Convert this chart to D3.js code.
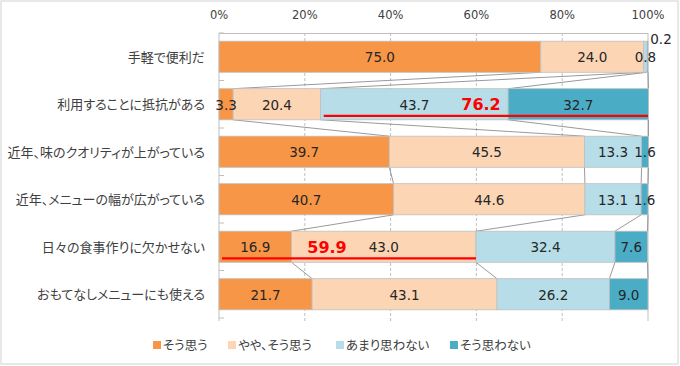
<!DOCTYPE html>
<html><head><meta charset="utf-8">
<script src="https://cdn.jsdelivr.net/npm/d3@7"></script>
<style>body{margin:0;background:#fff}svg{display:block}.jp{font-feature-settings:"palt" 1}</style>
</head><body><svg id="c" width="680" height="366"></svg>
<script>
const categories = ["手軽で便利だ","利用することに抵抗がある","近年、味のクオリティが上がっている","近年、メニューの幅が広がっている","日々の食事作りに欠かせない","おもてなしメニューにも使える"];
const seriesNames = ["そう思う","やや、そう思う","あまり思わない","そう思わない"];
const s1 = [75.0, 3.3, 39.7, 40.7, 16.9, 21.7];
const s2 = [24.0, 20.4, 45.5, 44.6, 43.0, 43.1];
const s3 = [0.8, 43.7, 13.3, 13.1, 32.4, 26.2];
const s4 = [0.2, 32.7, 1.6, 1.6, 7.6, 9.0];
const xTicks = [0,20,40,60,80,100];
const highlights = [{row:1, from:2, to:3, text:"76.2"}, {row:4, from:0, to:1, text:"59.9"}];
const colors = ["#F79646","#FCD5B5","#B7DEE8","#4BACC6"];
const font = "'Noto Sans CJK JP', 'Noto Sans', sans-serif";
const numFont = "'DejaVu Sans', sans-serif";

const svg = d3.select("#c");
svg.append("rect").attr("x",1).attr("y",1).attr("width",677).attr("height",363)
  .attr("fill","#fff").attr("stroke","#d9d9d9").attr("stroke-width",1.2);

const x = d3.scaleLinear().domain([0,100]).range([219,648]);
const y = d3.scaleBand().domain(categories).range([33,318]).paddingInner(0.345).paddingOuter(0.1725);
const series = [s1,s2,s3,s4];
const rows = categories.map((c,i)=>{
  let acc=0; return series.map((s,k)=>{const v=s[i]; const seg={k,i,v,x0:acc,x1:acc+v}; acc+=v; return seg;});
});

// gridlines
const g = svg.append("g");
xTicks.forEach(t=>{
  g.append("line").attr("x1",x(t)).attr("x2",x(t)).attr("y1",33).attr("y2",321)
   .attr("stroke", "#bfbfbf").attr("stroke-width",1)
   .attr("stroke-dasharray", (t===0||t===100)?null:"3,2");
});
g.append("line").attr("x1",x(0)).attr("x2",x(100)).attr("y1",33.5).attr("y2",33.5).attr("stroke","#bfbfbf");
const bounds = categories.map(c=>y(c)-y.step()*y.paddingInner()/2).concat([318]);
bounds.forEach(b=>{
  g.append("line").attr("x1",x(0)).attr("x2",x(0)+5).attr("y1",b).attr("y2",b).attr("stroke","#bfbfbf");
});

// top axis labels
svg.append("g").selectAll("text").data(xTicks).join("text")
  .attr("x",d=>x(d)).attr("y",19).attr("text-anchor","middle")
  .attr("font-family",numFont).attr("font-size",11.5).attr("fill","#404040")
  .text(d=>d+"%");

// series lines
const sl = svg.append("g");
for(let i=0;i<categories.length-1;i++){
  for(let k=0;k<4;k++){
    sl.append("line")
      .attr("x1",x(rows[i][k].x1)).attr("y1",y(categories[i])+y.bandwidth())
      .attr("x2",x(rows[i+1][k].x1)).attr("y2",y(categories[i+1]))
      .attr("stroke","#7f7f7f").attr("stroke-width",0.8);
  }
}

// bars
const bg = svg.append("g");
rows.forEach((r,i)=>{
  r.forEach(seg=>{
    bg.append("rect").attr("x",x(seg.x0)).attr("y",y(categories[i]))
      .attr("width",x(seg.x1)-x(seg.x0)).attr("height",y.bandwidth())
      .attr("fill",colors[seg.k]).attr("stroke","#bfbfbf").attr("stroke-width",0.8);
  });
});

// value labels
const lg = svg.append("g").attr("font-family",numFont).attr("font-size",13.5).attr("fill","#262626");
rows.forEach((r,i)=>{
  r.forEach(seg=>{
    let cx = x((seg.x0+seg.x1)/2), cy = y(categories[i])+y.bandwidth()/2+5.5;
    if(i===0 && seg.k===3){ cx = 661; cy = 44; }
    lg.append("text").attr("x",cx).attr("y",cy).attr("text-anchor","middle").text(seg.v.toFixed(1));
  });
});

// highlights
highlights.forEach(h=>{
  const r = rows[h.row];
  const xa = x(r[h.from].x0)+3, xb = x(Math.min(100, r[h.to].x1));
  const yb = y(categories[h.row])+y.bandwidth()-4;
  svg.append("line").attr("x1",xa).attr("x2",xb).attr("y1",yb).attr("y2",yb)
    .attr("stroke","#ff0000").attr("stroke-width",2.3);
});
svg.append("text").attr("x",481).attr("y",y(categories[1])+y.bandwidth()/2+6)
  .attr("text-anchor","middle").attr("font-family",numFont).attr("font-weight","bold")
  .attr("font-size",16).attr("fill","#ff0000").text(highlights[0].text);
svg.append("text").attr("x",327).attr("y",y(categories[4])+y.bandwidth()/2+6)
  .attr("text-anchor","middle").attr("font-family",numFont).attr("font-weight","bold")
  .attr("font-size",16).attr("fill","#ff0000").text(highlights[1].text);

// category labels
svg.append("g").selectAll("text").data(categories).join("text")
  .attr("class","jp")
  .attr("x",205).attr("y",d=>y(d)+y.bandwidth()/2+4.8).attr("text-anchor","end")
  .attr("font-family",font).attr("font-size",13).attr("fill","#404040").text(d=>d);

// legend
const legX = [153, 228, 336, 450];
const leg = svg.append("g");
seriesNames.forEach((n,k)=>{
  leg.append("rect").attr("x",legX[k]).attr("y",341).attr("width",8).attr("height",8).attr("fill",colors[k]);
  leg.append("text").attr("class","jp").attr("x",legX[k]+10).attr("y",349.8).attr("font-family",font)
    .attr("font-size",12.5).attr("fill","#404040").text(n);
});
</script></body></html>
